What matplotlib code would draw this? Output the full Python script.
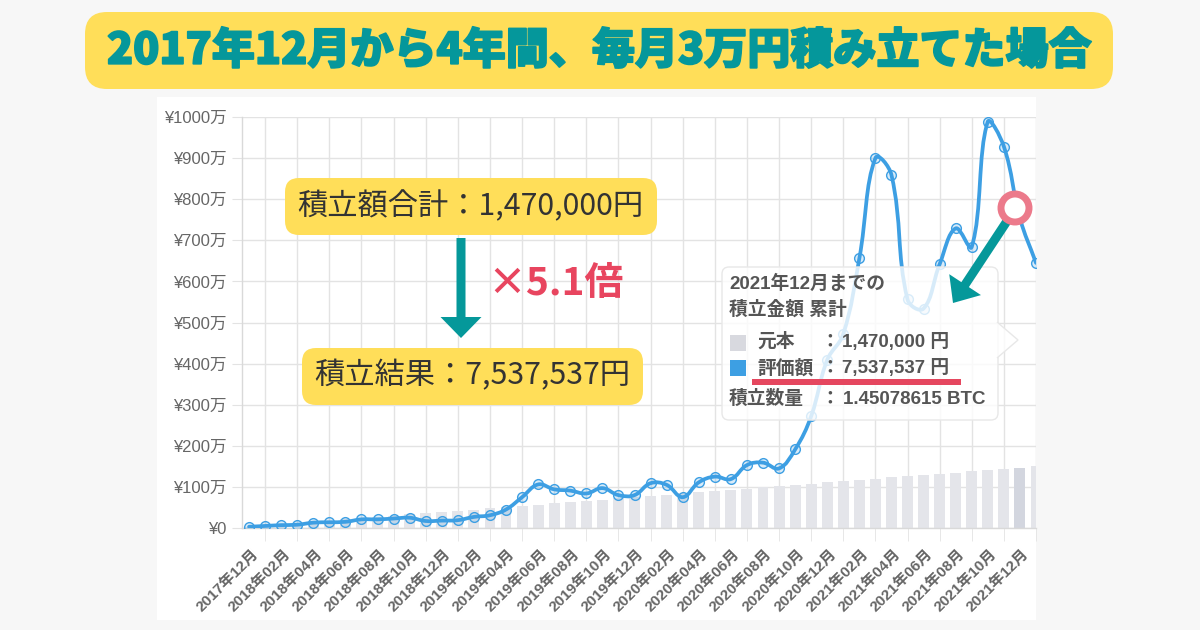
import numpy as np
import matplotlib
matplotlib.use('Agg')
import matplotlib.pyplot as plt
import matplotlib.transforms as mtransforms
import matplotlib.patheffects as pe
from matplotlib.path import Path
from matplotlib.patches import PathPatch, FancyBboxPatch, Rectangle, Circle, FancyArrow, Polygon

# ---------------- data ----------------
months = ['2017年12月', '2018年01月', '2018年02月', '2018年03月', '2018年04月', '2018年05月',
          '2018年06月', '2018年07月', '2018年08月', '2018年09月', '2018年10月', '2018年11月',
          '2018年12月', '2019年01月', '2019年02月', '2019年03月', '2019年04月', '2019年05月',
          '2019年06月', '2019年07月', '2019年08月', '2019年09月', '2019年10月', '2019年11月',
          '2019年12月', '2020年01月', '2020年02月', '2020年03月', '2020年04月', '2020年05月',
          '2020年06月', '2020年07月', '2020年08月', '2020年09月', '2020年10月', '2020年11月',
          '2020年12月', '2021年01月', '2021年02月', '2021年03月', '2021年04月', '2021年05月',
          '2021年06月', '2021年07月', '2021年08月', '2021年09月', '2021年10月', '2021年11月',
          '2021年12月', '2022年01月']
# 評価額 (万円)
valuation = [3, 5, 7, 8, 13, 14, 15, 21, 21, 23,
             25, 17, 18, 19, 27, 31, 45, 75, 106, 94,
             91, 84, 97, 80, 80, 109, 105, 75, 111, 125,
             119, 153, 159, 145, 191, 272, 409, 472, 656, 900,
             859, 556, 534, 642, 729, 684, 989, 928, 753.75, 645]
# 元本 (万円)
principal = [3, 6, 9, 12, 15, 18, 21, 24, 27, 30,
             33, 36, 39, 42, 45, 48, 51, 54, 57, 60,
             63, 66, 69, 72, 75, 78, 81, 84, 87, 90,
             93, 96, 99, 102, 105, 108, 111, 114, 117, 120,
             123, 126, 129, 132, 135, 138, 141, 144, 147, 150]
highlight_index = 48
y_ticks = [0, 100, 200, 300, 400, 500, 600, 700, 800, 900, 1000]
y_labels = ['¥0', '¥100万', '¥200万', '¥300万', '¥400万', '¥500万',
            '¥600万', '¥700万', '¥800万', '¥900万', '¥1000万']

title = '2017年12月から4年間、毎月3万円積み立てた場合'
box1_text = '積立額合計：1,470,000円'
box2_text = '積立結果：7,537,537円'
ratio_text = '×5.1倍'

# ---------------- style ----------------
JP = 'Noto Sans CJK JP'
LAT = 'Liberation Sans'
TEAL = '#05979b'
YELLOW = '#ffde59'
BLUE = '#3d9fe3'
BAR = '#e4e5ea'
BAR_HI = '#d3d6df'
GRID = '#e3e3e3'
TICK_TXT = '#666666'

W, H = 1200, 630
fig = plt.figure(figsize=(W / 100, H / 100), dpi=100)
fig.patch.set_facecolor('#f7f7f7')
pxT = mtransforms.Affine2D().scale(1 / W, -1 / H).translate(0, 1) + fig.transFigure

# white panel
fig.add_artist(Rectangle((157, 97), 879, 523, transform=pxT, facecolor='white',
                         edgecolor='none', zorder=-5))

ax_left, ax_right, ax_top, ax_bot = 242, 1036, 117, 528
ax = fig.add_axes([ax_left / W, 1 - ax_bot / H, (ax_right - ax_left) / W, (ax_bot - ax_top) / H])
ax.set_facecolor('none')

x = np.arange(len(months))
ax.set_xlim(-0.44, 48.94)
ax.set_ylim(0, 1000)

# bars
bar_colors = [BAR_HI if i == highlight_index else BAR for i in range(len(principal))]
ax.bar(x, principal, width=0.68, color=bar_colors, zorder=1)

# smooth line (chart.js-like bezier through the data points)
def bezier_path(ax, xs, ys, tension=0.4):
    pts = ax.transData.transform(np.column_stack([xs, ys]))
    bb = ax.bbox
    n = len(pts)
    prev_cp, next_cp = [], []
    for i in range(n):
        p1 = pts[i]
        p0 = pts[i - 1] if i > 0 else p1
        p2 = pts[i + 1] if i < n - 1 else p1
        d01 = np.hypot(*(p1 - p0))
        d12 = np.hypot(*(p2 - p1))
        tot = d01 + d12
        s01 = d01 / tot if tot else 0
        s12 = d12 / tot if tot else 0
        a = p1 - tension * s01 * (p2 - p0)
        b = p1 + tension * s12 * (p2 - p0)
        a[1] = np.clip(a[1], bb.y0, bb.y1)
        b[1] = np.clip(b[1], bb.y0, bb.y1)
        prev_cp.append(a)
        next_cp.append(b)
    verts = [pts[0]]
    codes = [Path.MOVETO]
    for i in range(1, n):
        verts += [next_cp[i - 1], prev_cp[i], pts[i]]
        codes += [Path.CURVE4] * 3
    verts = ax.transData.inverted().transform(np.array(verts))
    return Path(verts, codes)

path = bezier_path(ax, x, valuation)
ax.add_patch(PathPatch(path, facecolor='none', edgecolor=BLUE, lw=2.7, zorder=3,
                       capstyle='round', joinstyle='round'))
ax.plot(x, valuation, linestyle='none', marker='o', ms=7, mfc=(0.24, 0.62, 0.89, 0.2),
        mec=BLUE, mew=1.0, zorder=4)

# axes styling
for s in ['top', 'right']:
    ax.spines[s].set_visible(False)
for s in ['left', 'bottom']:
    ax.spines[s].set_color('#d9d9d9')
    ax.spines[s].set_linewidth(1)

ax.set_yticks(y_ticks)
ax.set_yticklabels(y_labels)
ax.tick_params(axis='y', length=7, color=GRID, pad=4, labelsize=12, labelcolor=TICK_TXT)
for lab in ax.get_yticklabels():
    lab.set_fontfamily([LAT, JP])
ax.yaxis.grid(True, color=GRID, lw=1)

ax.set_xticks(x[::2])
ax.set_xticklabels(months[::2])
ax.set_xticks(x[1::2], minor=True)
ax.tick_params(axis='x', which='major', length=0, pad=17, labelsize=11, labelcolor=TICK_TXT)
ax.tick_params(axis='x', which='minor', length=9, color=GRID)
ax.xaxis.grid(True, which='minor', color=GRID, lw=1)
ax.xaxis.grid(False, which='major')
offset = mtransforms.ScaledTranslation(7 / 100, 0, fig.dpi_scale_trans)
for lab in ax.get_xticklabels():
    lab.set_fontfamily([LAT, JP])
    lab.set_fontweight('bold')
    lab.set_rotation(45)
    lab.set_rotation_mode('anchor')
    lab.set_ha('right')
    lab.set_va('center')
    lab.set_transform(lab.get_transform() + offset)
ax.set_axisbelow(True)

# ---------------- title ----------------
fig.add_artist(FancyBboxPatch((85, 12), 1028, 77, transform=pxT,
                              boxstyle='round,pad=0,rounding_size=22',
                              facecolor=YELLOW, edgecolor='none', zorder=5))
fig.text(599, 51, title, transform=pxT, ha='center', va='center', fontsize=31,
         family=[JP], fontweight='black', color=TEAL, zorder=6,
         path_effects=[pe.withStroke(linewidth=1.3, foreground=TEAL)])

# ---------------- tooltip ----------------
fig.add_artist(FancyBboxPatch((722, 267), 276, 153, transform=pxT,
                              boxstyle='round,pad=0,rounding_size=7',
                              facecolor=(1, 1, 1, 0.8), edgecolor='#e8e8e8', lw=1, zorder=6))
fig.add_artist(Polygon([(997, 322), (1018, 340), (997, 358)], closed=False, transform=pxT,
                       facecolor=(1, 1, 1, 0.8), edgecolor='#e8e8e8', lw=1, zorder=6))
tt_col = '#555555'
tt_kw = dict(transform=pxT, va='center', fontsize=13.5, fontweight='bold',
             family=[LAT, JP], color=tt_col, zorder=7)
fig.text(729, 284, '2021年12月までの', ha='left', **tt_kw)
fig.text(729, 309, '積立金額 累計', ha='left', **tt_kw)
fig.add_artist(Rectangle((730, 335), 16, 16, transform=pxT, facecolor='#d8d9df',
                         edgecolor='none', zorder=7))
fig.add_artist(Rectangle((730, 360), 16, 16, transform=pxT, facecolor=BLUE,
                         edgecolor='none', zorder=7))
fig.text(757, 342, '元本', ha='left', **tt_kw)
fig.text(830, 342, '：', ha='center', **tt_kw)
fig.text(842, 342, '1,470,000 円', ha='left', **tt_kw)
fig.text(757, 368, '評価額', ha='left', **tt_kw)
fig.text(830, 368, '：', ha='center', **tt_kw)
fig.text(842, 368, '7,537,537 円', ha='left', **tt_kw)
fig.add_artist(Rectangle((752, 379), 209, 5.5, transform=pxT, facecolor='#e5475f',
                         edgecolor='none', zorder=8))
fig.text(729, 399, '積立数量', ha='left', **tt_kw)
fig.text(830, 399, '：', ha='center', **tt_kw)
fig.text(843, 399, '1.45078615 BTC', ha='left', **tt_kw)

# ---------------- annotation boxes ----------------
fig.add_artist(FancyBboxPatch((285, 178), 372, 57, transform=pxT,
                              boxstyle='round,pad=0,rounding_size=14',
                              facecolor=YELLOW, edgecolor='none', zorder=8))
fig.text(297, 206, box1_text, transform=pxT, ha='left', va='center', fontsize=21.8,
         family=[JP], color='#333333', zorder=9)
fig.add_artist(FancyBboxPatch((302, 348), 341, 57, transform=pxT,
                              boxstyle='round,pad=0,rounding_size=14',
                              facecolor=YELLOW, edgecolor='none', zorder=8))
fig.text(314, 376, box2_text, transform=pxT, ha='left', va='center', fontsize=21.8,
         family=[JP], color='#333333', zorder=9)

fig.add_artist(FancyArrow(461, 238, 0, 100, width=9, head_width=41, head_length=21,
                          length_includes_head=True, transform=pxT, color='#05989a',
                          lw=0, zorder=8))
fig.text(487, 283, ratio_text, transform=pxT, ha='left', va='center', fontsize=28,
         fontweight='bold', family=[JP], color='#e8455f', zorder=9)

# arrow to highlighted point
fig.add_artist(FancyArrow(1013, 212, 953 - 1013, 303 - 212, width=9, head_width=38,
                          head_length=22, length_includes_head=True, transform=pxT,
                          color='#05989a', lw=0, zorder=9))
fig.add_artist(Circle((1015, 208), 14, transform=pxT, facecolor='white',
                      edgecolor='#ec7a8b', lw=5, zorder=10))

fig.savefig('out.png', dpi=100, facecolor=fig.get_facecolor())
